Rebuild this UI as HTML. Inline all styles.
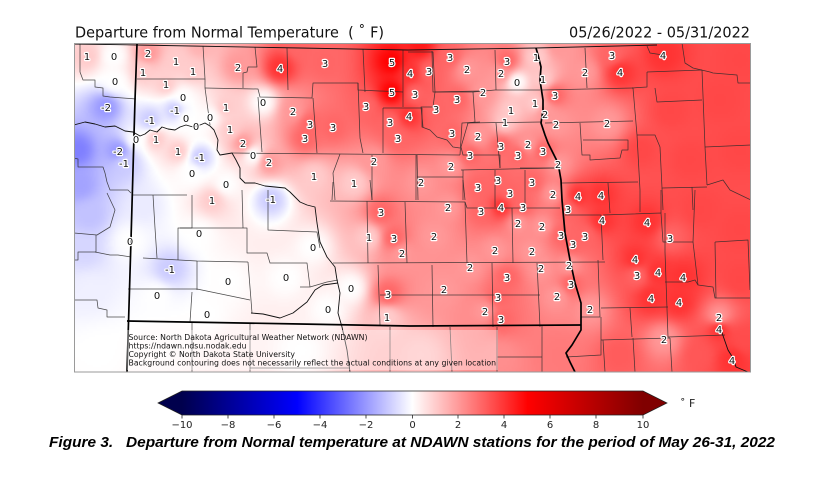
<!DOCTYPE html>
<html><head><meta charset="utf-8">
<style>
html,body{margin:0;padding:0;background:#fff;}
body{width:817px;height:479px;overflow:hidden;position:relative;}
#bg{position:absolute;left:74px;top:43px;width:677px;height:329px;background:linear-gradient(90deg,#a8a8ff 0%,#f4f4ff 18%,#fff4f4 38%,#ff8080 55%,#ff5050 100%);}
#cv{position:absolute;left:74px;top:43px;width:677px;height:329px;}
#ov{position:absolute;left:0;top:0;}
</style></head>
<body>
<div id="bg"></div>
<canvas id="cv" width="339" height="165"></canvas>
<svg id="ov" width="817" height="479" viewBox="0 0 817 479" xmlns="http://www.w3.org/2000/svg">
<defs>
<clipPath id="mc"><rect x="74" y="43" width="677" height="329"/></clipPath>
<linearGradient id="cb" x1="0" x2="1" y1="0" y2="0">
<stop offset="0" stop-color="#00004d"/><stop offset="0.25" stop-color="#0000ff"/><stop offset="0.5" stop-color="#ffffff"/><stop offset="0.75" stop-color="#ff0000"/><stop offset="1" stop-color="#800000"/>
</linearGradient>
</defs>
<text x="75" y="37.5" font-family="DejaVu Sans, Liberation Sans, sans-serif" font-size="15.5" fill="#111" textLength="309" lengthAdjust="spacingAndGlyphs" xml:space="preserve">Departure from Normal Temperature  ( ˚ F)</text>
<text x="750" y="37.5" text-anchor="end" font-family="DejaVu Sans, Liberation Sans, sans-serif" font-size="15.5" fill="#111" textLength="181" lengthAdjust="spacingAndGlyphs">05/26/2022 - 05/31/2022</text>

<g clip-path="url(#mc)" fill="none" stroke-linejoin="round">
<g stroke="#2a2a2a" stroke-width="0.75" stroke-opacity="0.85">
<path d="M80,44 L80,72 L83,80 L95,80 L95,87 L103,88 L103,96 L110,97 L136,99"/>
<path d="M74,158 L78,159 L78,167 L103,167 L105,173 L107,182 L110,190 L128,190 L131,193"/>
<path d="M107,193 L115,210 L110,227 L97,235 L74,233"/>
<path d="M96,235 L96,252 L78,252 L78,260 L74,260"/>
<path d="M95,252 L110,255 L118,255 L131,257"/>
<path d="M74,300 L97,300 L98,308 L107,310 L107,317 L125,317"/>
<path d="M137,79 L205,79 L203,46"/>
<path d="M205,88 L258,89 L260,97 L312,98 L313,83 L358,83 L358,90 L403,92"/>
<path d="M205,79 L205,88 L210,125"/>
<path d="M255,47 L257,67 L248,67 L247,72 L243,73 L243,88"/>
<path d="M287,48 L288,90"/>
<path d="M363,49 L365,92"/>
<path d="M403,50 L403,107"/>
<path d="M258,97 L262,152"/>
<path d="M313,98 L317,153"/>
<path d="M358,83 L360,138 L363,153"/>
<path d="M383,108 L383,153"/>
<path d="M232,153 L460,155"/>
<path d="M383,108 L422,108 L422,127 L430,130 L437,137 L447,140 L453,147 L460,148"/>
<path d="M340,154 L333,173 L335,200"/>
<path d="M372,155 L372,200"/>
<path d="M417,155 L418,200"/>
<path d="M417,177 L463,177"/>
<path d="M460,155 L462,123 L480,122"/>
<path d="M432,51 L433,92 L480,91"/>
<path d="M133,195 L187,195"/>
<path d="M153,195 L155,228 L157,258"/>
<path d="M192,195 L192,228 L178,228 L178,260"/>
<path d="M180,228 L247,228 L247,253 L267,253 L270,263 L307,263 L310,287"/>
<path d="M143,258 L197,261 L248,262"/>
<path d="M128,289 L197,289 L250,300"/>
<path d="M197,261 L197,290"/>
<path d="M248,262 L251,300 L252,313"/>
<path d="M192,292 L190,322"/>
<path d="M242,190 L243,228"/>
<path d="M268,190 L268,230 L317,232 L320,248"/>
<path d="M192,323 L192,372"/>
<path d="M250,323 L250,372"/>
<path d="M250,368 L350,368"/>
<path d="M330,201 L465,202 L467,208 L513,208 L560,208"/>
<path d="M367,201 L368,263"/>
<path d="M405,202 L407,263"/>
<path d="M465,202 L467,263"/>
<path d="M512,208 L513,263"/>
<path d="M333,263 L605,262"/>
<path d="M378,265 L380,325"/>
<path d="M432,265 L433,327"/>
<path d="M492,263 L493,327"/>
<path d="M537,263 L540,327"/>
<path d="M380,295 L540,295"/>
<path d="M390,327 L390,372"/>
<path d="M450,327 L452,372"/>
<path d="M497,327 L497,372"/>
<path d="M542,325 L542,372"/>
<path d="M497,357 L542,357"/>
<path d="M333,182 L332,200"/>
<path d="M370,180 L372,200"/>
<path d="M463,180 L465,200"/>
<path d="M495,170 L495,207"/>
<path d="M525,170 L525,207"/>
<path d="M408,52 L433,52 L435,92 L473,92 L495,90 L540,90"/>
<path d="M495,50 L496,90"/>
<path d="M435,92 L433,107 L421,107 L423,127"/>
<path d="M473,92 L475,122 L468,123 L461,147 L463,155 L500,155 L500,168"/>
<path d="M467,123 L541,122"/>
<path d="M496,123 L500,168"/>
<path d="M416,155 L416,200"/>
<path d="M461,170 L556,168"/>
<path d="M463,170 L463,200"/>
<path d="M585,48 L587,88"/>
<path d="M647,46 L650,53 L663,55"/>
<path d="M682,43 L685,63 L693,68 L710,72 L713,73 L737,75 L738,83 L751,83"/>
<path d="M647,72 L647,87 L632,88"/>
<path d="M647,72 L702,70"/>
<path d="M542,90 L633,88"/>
<path d="M633,88 L637,135 L640,190 L640,212"/>
<path d="M655,88 L657,102 L702,100"/>
<path d="M702,70 L705,147 L707,185"/>
<path d="M705,147 L751,145"/>
<path d="M637,135 L655,135 L660,147 L662,188 L707,187"/>
<path d="M707,185 L723,180 L730,190 L751,200"/>
<path d="M545,123 L633,121"/>
<path d="M580,123 L582,155 L590,155 L590,160 L620,158 L622,150 L628,150 L628,140 L583,140"/>
<path d="M520,168 L562,168"/>
<path d="M562,183 L638,182"/>
<path d="M608,183 L610,213"/>
<path d="M662,188 L663,210"/>
<path d="M692,187 L693,210"/>
<path d="M565,215 L601,215 L603,260"/>
<path d="M603,215 L661,213 L663,242 L693,242 L695,190"/>
<path d="M661,190 L661,213"/>
<path d="M598,260 L600,317 L581,317"/>
<path d="M665,213 L665,252 L668,337 L725,335"/>
<path d="M601,308 L668,307"/>
<path d="M630,308 L632,337"/>
<path d="M601,340 L670,338"/>
<path d="M603,340 L605,372"/>
<path d="M633,338 L635,372"/>
<path d="M670,338 L672,372"/>
<path d="M665,282 L688,282 L695,280 L698,285 L713,287 L715,298 L751,298"/>
<path d="M693,242 L698,285"/>
<path d="M715,242 L748,240 L750,290"/>
<path d="M715,242 L716,298"/>
<path d="M566,357 L601,355 L601,317"/>
<path d="M300,287 L310,287 L327,282 L338,280"/>
</g>
<g stroke="#111" stroke-width="0.9">
<path d="M74,44 L137,45 L300,48 L408,50 L536,48 L657,45"/>
<path d="M720,327 L728,350 L733,358 L736,367 L748,372"/>
<path d="M74,125 L85,122 L95,124 L105,127 L115,126 L125,131 L133,132 L140,136 L145,134 L150,130 L157,132 L162,127 L168,129 L175,130 L180,127 L186,125 L193,127 L200,125 L205,123 L210,126 L214,130 L218,140 L217,150 L220,155 L232,153 L236,160 L240,168 L240,178 L245,183 L255,183 L265,186 L275,187 L285,188 L290,192 L300,202 L307,205 L315,207 L317,223 L320,242 L327,257 L335,267 L337,280 L340,293 L338,313 L342,327 L347,350 L350,372"/>
<path d="M251,313 L263,314 L280,318 L293,313 L307,302 L315,290 L323,285 L338,283"/>
</g>
<g stroke="#000" stroke-width="1.7">
<path d="M137,44 L135,100 L131,240 L127,372"/>
<path d="M127,321 L300,324 L410,326 L581,325"/>
<path d="M536,48 L538,55 L541,67 L540,80 L541,87 L543,100 L543,110 L541,123 L545,135 L548,143 L553,153 L558,163 L561,180 L562,200 L565,233 L570,260 L575,283 L581,303 L581,330 L572,345 L566,353 L570,362 L575,372"/>
</g>
</g>
<rect x="74.5" y="43.5" width="676" height="328.5" fill="none" stroke="#9a9a9a" stroke-width="1"/>

<g font-family="DejaVu Sans, Liberation Sans, sans-serif" font-size="10" fill="#111" stroke="#fff" stroke-width="2.4" paint-order="stroke" text-anchor="middle" stroke-linejoin="round">
<text x="87" y="60">1</text><text x="114" y="60">0</text><text x="115" y="85">0</text><text x="106" y="111">-2</text><text x="118" y="155">-2</text><text x="124" y="167">-1</text>
<text x="148" y="57">2</text><text x="176" y="65">1</text><text x="193" y="75">1</text><text x="143" y="76">1</text><text x="166" y="88">1</text><text x="183" y="101">0</text>
<text x="175" y="114">-1</text><text x="150" y="124">-1</text><text x="186" y="122">0</text><text x="196" y="130">0</text><text x="210" y="121">0</text><text x="226" y="111">1</text>
<text x="230" y="133">1</text><text x="243" y="147">2</text><text x="253" y="159">0</text><text x="269" y="166">2</text><text x="314" y="180">1</text><text x="354" y="187">1</text>
<text x="200" y="161">-1</text><text x="178" y="155">1</text><text x="156" y="143">1</text><text x="136" y="143">0</text><text x="238" y="71">2</text><text x="280" y="72">4</text>
<text x="325" y="67">3</text><text x="263" y="106">0</text><text x="293" y="115">2</text><text x="310" y="128">3</text><text x="333" y="131">3</text><text x="305" y="142">3</text>
<text x="392" y="66">5</text><text x="392" y="96">5</text><text x="366" y="110">3</text><text x="390" y="126">3</text><text x="398" y="142">3</text><text x="374" y="165">2</text>
<text x="410" y="77">4</text><text x="429" y="75">3</text><text x="450" y="61">3</text><text x="467" y="73">2</text><text x="507" y="65">3</text><text x="501" y="77">2</text>
<text x="517" y="86">0</text><text x="483" y="96">2</text><text x="536" y="61">1</text><text x="543" y="83">1</text><text x="555" y="99">3</text><text x="457" y="103">3</text>
<text x="436" y="113">3</text><text x="409" y="120">4</text><text x="415" y="98">3</text><text x="511" y="114">1</text><text x="535" y="107">1</text><text x="545" y="118">2</text>
<text x="505" y="126">1</text><text x="556" y="128">2</text><text x="607" y="127">2</text><text x="452" y="137">3</text><text x="478" y="140">2</text><text x="501" y="150">3</text>
<text x="528" y="148">2</text><text x="470" y="159">3</text><text x="518" y="159">3</text><text x="543" y="155">3</text><text x="451" y="170">2</text><text x="558" y="168">2</text>
<text x="421" y="186">2</text><text x="478" y="191">3</text><text x="498" y="184">3</text><text x="510" y="197">3</text><text x="532" y="186">3</text><text x="553" y="198">2</text>
<text x="578" y="200">4</text><text x="601" y="199">4</text><text x="585" y="76">2</text><text x="620" y="76">4</text><text x="612" y="59">3</text><text x="663" y="59">4</text>
<text x="192" y="177">0</text><text x="226" y="188">0</text><text x="212" y="204">1</text><text x="271" y="203">-1</text><text x="381" y="216">3</text><text x="448" y="211">2</text>
<text x="481" y="215">3</text><text x="501" y="211">4</text><text x="523" y="211">3</text><text x="568" y="213">3</text><text x="602" y="224">4</text><text x="647" y="226">4</text>
<text x="670" y="242">3</text><text x="518" y="227">2</text><text x="542" y="230">2</text><text x="561" y="239">3</text><text x="573" y="248">3</text><text x="585" y="240">3</text>
<text x="434" y="240">2</text><text x="369" y="241">1</text><text x="394" y="242">3</text><text x="402" y="257">2</text><text x="495" y="254">2</text><text x="532" y="255">2</text>
<text x="635" y="263">4</text><text x="470" y="271">2</text><text x="541" y="272">2</text><text x="569" y="269">2</text><text x="507" y="281">3</text><text x="637" y="279">3</text>
<text x="658" y="276">4</text><text x="683" y="281">4</text><text x="571" y="288">3</text><text x="444" y="293">2</text><text x="498" y="301">3</text><text x="557" y="300">2</text>
<text x="651" y="302">4</text><text x="679" y="306">4</text><text x="485" y="315">2</text><text x="501" y="323">3</text><text x="590" y="313">2</text><text x="719" y="321">2</text>
<text x="719" y="333">4</text><text x="664" y="343">2</text><text x="732" y="364">4</text><text x="388" y="298">3</text><text x="387" y="321">1</text><text x="130" y="245">0</text>
<text x="199" y="237">0</text><text x="313" y="251">0</text><text x="170" y="273">-1</text><text x="228" y="285">0</text><text x="286" y="281">0</text><text x="157" y="299">0</text>
<text x="207" y="318">0</text><text x="351" y="292">0</text><text x="328" y="313">0</text>
</g>

<rect x="127" y="330" width="371" height="40" fill="#fff" fill-opacity="0.35"/>
<g font-family="DejaVu Sans, Liberation Sans, sans-serif" font-size="7.8" fill="#111">
<text x="128.5" y="340" textLength="239" lengthAdjust="spacingAndGlyphs">Source: North Dakota Agricultural Weather Network (NDAWN)</text>
<text x="128.5" y="348.5" textLength="118" lengthAdjust="spacingAndGlyphs">https://ndawn.ndsu.nodak.edu</text>
<text x="128.5" y="357" textLength="166.5" lengthAdjust="spacingAndGlyphs">Copyright © North Dakota State University</text>
<text x="128.5" y="365.5" textLength="367.5" lengthAdjust="spacingAndGlyphs">Background contouring does not necessarily reflect the actual conditions at any given location</text>
</g>

<polygon points="182,391 158,403 182,415" fill="#00004d"/>
<polygon points="643,391 667,403 643,415" fill="#800000"/>
<rect x="182" y="391" width="461" height="24" fill="url(#cb)"/>
<polygon points="158,403 182,391 643,391 667,403 643,415 182,415" fill="none" stroke="#222" stroke-width="0.7"/>
<g stroke="#222" stroke-width="0.8">
<line x1="182" y1="415" x2="182" y2="418.5"/><line x1="228" y1="415" x2="228" y2="418.5"/><line x1="274" y1="415" x2="274" y2="418.5"/><line x1="320" y1="415" x2="320" y2="418.5"/><line x1="366" y1="415" x2="366" y2="418.5"/><line x1="412.5" y1="415" x2="412.5" y2="418.5"/><line x1="458" y1="415" x2="458" y2="418.5"/><line x1="504" y1="415" x2="504" y2="418.5"/><line x1="550" y1="415" x2="550" y2="418.5"/><line x1="596" y1="415" x2="596" y2="418.5"/><line x1="643" y1="415" x2="643" y2="418.5"/>
</g>
<g font-family="DejaVu Sans, Liberation Sans, sans-serif" font-size="10" fill="#222" text-anchor="middle">
<text x="182" y="428">−10</text><text x="228" y="428">−8</text><text x="274" y="428">−6</text><text x="320" y="428">−4</text><text x="366" y="428">−2</text><text x="412.5" y="428">0</text><text x="458" y="428">2</text><text x="504" y="428">4</text><text x="550" y="428">6</text><text x="596" y="428">8</text><text x="643" y="428">10</text>
</g>
<text x="680" y="407" font-family="DejaVu Sans, Liberation Sans, sans-serif" font-size="11" fill="#222" xml:space="preserve">˚ F</text>
<text x="49" y="447" font-family="Liberation Sans, Arial, sans-serif" font-size="15" font-weight="bold" font-style="italic" fill="#000" textLength="726" lengthAdjust="spacingAndGlyphs" xml:space="preserve">Figure 3.   Departure from Normal temperature at NDAWN stations for the period of May 26-31, 2022</text>
</svg>
<script>
(function(){
var P=[[87,56,1],[114,56,0],[115,81,0],[106,107,-2],[118,151,-2],[124,163,-1],[148,53,2],[176,61,1],[193,71,1],[143,72,1],[166,84,1],[183,97,0],[175,110,-1],[150,120,-1],[186,118,0],[196,126,0],[210,117,0],[226,107,1],[230,129,1],[243,143,2],[253,155,0],[269,162,2],[314,176,1],[354,183,1],[200,157,-1],[178,151,1],[156,139,1],[136,139,0],[238,67,2],[280,68,4],[325,63,3],[263,102,0],[293,111,2],[310,124,3],[333,127,3],[305,138,3],[392,62,5],[392,92,5],[366,106,3],[390,122,3],[398,138,3],[374,161,2],[410,73,4],[429,71,3],[450,57,3],[467,69,2],[507,61,3],[501,73,2],[517,82,0],[483,92,2],[536,57,1],[543,79,1],[555,95,3],[457,99,3],[436,109,3],[409,116,4],[415,94,3],[511,110,1],[535,103,1],[545,114,2],[505,122,1],[556,124,2],[607,123,2],[452,133,3],[478,136,2],[501,146,3],[528,144,2],[470,155,3],[518,155,3],[543,151,3],[451,166,2],[558,164,2],[421,182,2],[478,187,3],[498,180,3],[510,193,3],[532,182,3],[553,194,2],[578,196,4],[601,195,4],[585,72,2],[620,72,4],[612,55,3],[663,55,4],[192,173,0],[226,184,0],[212,200,1],[271,199,-1],[381,212,3],[448,207,2],[481,211,3],[501,207,4],[523,207,3],[568,209,3],[602,220,4],[647,222,4],[670,238,3],[518,223,2],[542,226,2],[561,235,3],[573,244,3],[585,236,3],[434,236,2],[369,237,1],[394,238,3],[402,253,2],[495,250,2],[532,251,2],[635,259,4],[470,267,2],[541,268,2],[569,265,2],[507,277,3],[637,275,3],[658,272,4],[683,277,4],[571,284,3],[444,289,2],[498,297,3],[557,296,2],[651,298,4],[679,302,4],[485,311,2],[501,319,3],[590,309,2],[719,317,2],[719,329,4],[664,339,2],[732,360,4],[388,294,3],[387,317,1],[130,241,0],[199,233,0],[313,247,0],[170,269,-1],[228,281,0],[286,277,0],[157,295,0],[207,314,0],[351,288,0],[328,309,0],
[78,150,-2.5],[80,185,-1.8],[90,215,-1.2],[85,250,-0.8],[90,290,-0.3],[100,350,0],[160,350,0.1],[230,350,0.3],[300,350,0],[740,60,3.6],[720,100,3.6],[740,150,3.6],[690,160,3.6],[740,230,3.6],[700,210,3.6],[740,280,3.6],[620,355,3.2],[700,355,3.3],[745,340,3.5],[560,355,2.6],[500,355,2.2],[420,355,1.2],[640,150,3.6],[670,110,3.6],[300,46,3],[420,46,4.5],[560,47,2],[200,46,1.5],[145,205,-0.4]];
function cm(v){var t=(v+10)/20;if(t<0)t=0;if(t>1)t=1;var r,g,b,u;
if(t<0.25){u=t/0.25;r=0;g=0;b=0.3+0.7*u;}
else if(t<0.5){u=(t-0.25)/0.25;r=u;g=u;b=1;}
else if(t<0.75){u=(t-0.5)/0.25;r=1;g=1-u;b=1-u;}
else{u=(t-0.75)/0.25;r=1-0.5*u;g=0;b=0;}
return [r*255,g*255,b*255];}
var c=document.getElementById('cv');if(!c.getContext)return;
var W=c.width,H=c.height,ctx=c.getContext('2d');
var im=ctx.createImageData(W,H),d=im.data,n=P.length;
for(var j=0;j<H;j++){var py=43+(j+0.5)*329/H;
for(var i=0;i<W;i++){var px=74+(i+0.5)*677/W;var sw=0,sv=0;
for(var k=0;k<n;k++){var p=P[k],dx=px-p[0],dy=py-p[1],d2=dx*dx+dy*dy+9;var w=1/(d2*Math.sqrt(d2));sw+=w;sv+=w*p[2];}
var col=cm(sv/sw),o=(j*W+i)*4;d[o]=col[0];d[o+1]=col[1];d[o+2]=col[2];d[o+3]=255;}}
ctx.putImageData(im,0,0);
})();
</script>
</body></html>
